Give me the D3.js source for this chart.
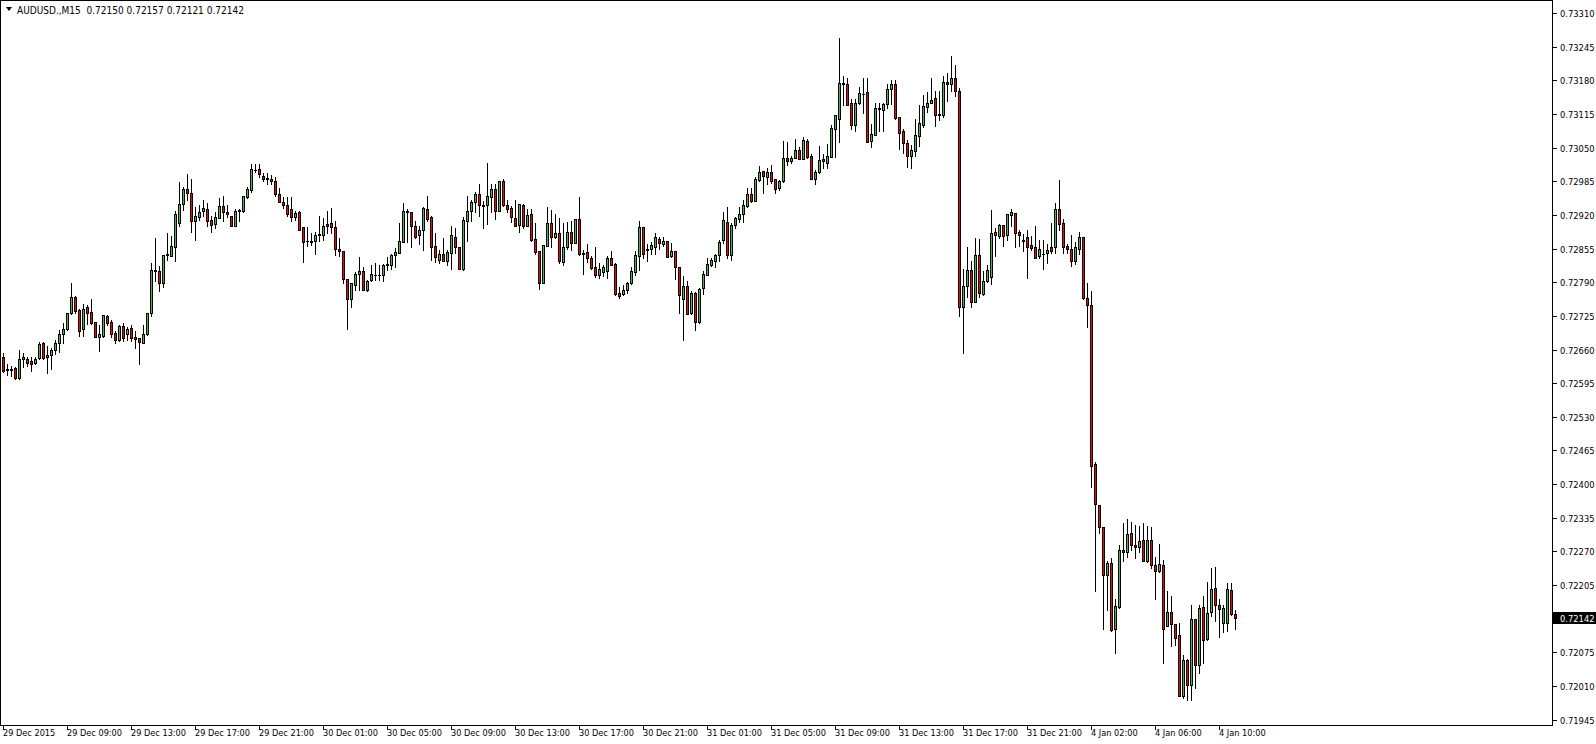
<!DOCTYPE html>
<html><head><meta charset="utf-8">
<script src="https://cdn.jsdelivr.net/npm/d3@7"></script>
<style>
html,body{margin:0;padding:0;background:#fff;overflow:hidden;}
svg{display:block;}
text{font-family:"DejaVu Sans Condensed","DejaVu Sans",sans-serif;}
</style></head><body>
<svg id="c" width="1596" height="744"></svg>
<script>
const title = "AUDUSD.,M15";
const headerOHLC = ["0.72150", "0.72157", "0.72121", "0.72142"];
const lastPrice = 0.72142;

const open = [
0.72645,0.72622,0.72621,0.72624,0.72606,0.72641,0.72642,0.72638,0.72635,0.72644,
0.72672,0.72645,0.72650,0.72659,0.72673,0.72691,0.72699,0.72730,0.72761,0.72736,
0.72700,0.72743,0.72733,0.72713,0.72684,0.72687,0.72725,0.72713,0.72693,0.72678,
0.72705,0.72690,0.72702,0.72684,0.72682,0.72673,0.72690,0.72730,0.72813,0.72812,
0.72789,0.72842,0.72841,0.72859,0.72905,0.72941,0.72970,0.72962,0.72909,0.72917,
0.72927,0.72932,0.72910,0.72903,0.72915,0.72937,0.72925,0.72919,0.72899,0.72927,
0.72927,0.72954,0.72968,0.73007,0.73008,0.72995,0.72991,0.72990,0.72985,0.72961,
0.72946,0.72939,0.72932,0.72917,0.72926,0.72896,0.72869,0.72869,0.72869,0.72881,
0.72881,0.72903,0.72904,0.72896,0.72855,0.72850,0.72796,0.72758,0.72785,0.72807,
0.72811,0.72776,0.72794,0.72804,0.72805,0.72804,0.72823,0.72824,0.72843,0.72847,
0.72868,0.72927,0.72926,0.72899,0.72881,0.72891,0.72931,0.72916,0.72860,0.72834,
0.72845,0.72831,0.72846,0.72877,0.72858,0.72816,0.72909,0.72928,0.72946,0.72961,
0.72939,0.72939,0.72955,0.72970,0.72928,0.72985,0.72939,0.72934,0.72914,0.72901,
0.72939,0.72899,0.72922,0.72874,0.72850,0.72789,0.72861,0.72904,0.72877,0.72885,
0.72829,0.72859,0.72887,0.72865,0.72912,0.72846,0.72849,0.72836,0.72819,0.72805,
0.72810,0.72812,0.72837,0.72825,0.72769,0.72767,0.72775,0.72789,0.72809,0.72840,
0.72896,0.72854,0.72854,0.72859,0.72873,0.72864,0.72869,0.72840,0.72850,0.72819,
0.72757,0.72782,0.72730,0.72769,0.72713,0.72779,0.72805,0.72823,0.72832,0.72842,
0.72871,0.72907,0.72843,0.72901,0.72913,0.72922,0.72938,0.72961,0.72948,0.72988,
0.73006,0.72994,0.73003,0.72989,0.72972,0.72985,0.73030,0.73024,0.73031,0.73046,
0.73029,0.73064,0.73034,0.72990,0.73003,0.73029,0.73021,0.73033,0.73086,0.73106,
0.73175,0.73174,0.73136,0.73093,0.73136,0.73154,0.73158,0.73064,0.73075,0.73126,
0.73123,0.73135,0.73164,0.73173,0.73109,0.73083,0.73059,0.73035,0.73044,0.73073,
0.73093,0.73128,0.73137,0.73146,0.73115,0.73113,0.73178,0.73173,0.73185,0.73160,
0.72743,0.72783,0.72813,0.72752,0.72842,0.72767,0.72792,0.72801,0.72887,0.72880,
0.72900,0.72881,0.72921,0.72923,0.72887,0.72871,0.72877,0.72862,0.72858,0.72840,
0.72845,0.72846,0.72858,0.72859,0.72932,0.72904,0.72860,0.72854,0.72831,0.72855,
0.72877,0.72760,0.72746,0.72439,0.72359,0.72317,0.72225,0.72247,0.72120,0.72163,
0.72273,0.72269,0.72305,0.72282,0.72278,0.72292,0.72252,0.72292,0.72243,0.72232,
0.72243,0.72126,0.72153,0.72130,0.72109,0.71990,0.72060,0.72011,0.72139,0.72051,
0.72162,0.72100,0.72153,0.72199,0.72166,0.72132,0.72132,0.72196,0.72150];

const high = [
0.72653,0.72633,0.72628,0.72626,0.72659,0.72654,0.72646,0.72646,0.72645,0.72675,
0.72675,0.72666,0.72664,0.72679,0.72698,0.72711,0.72731,0.72788,0.72763,0.72738,
0.72749,0.72747,0.72757,0.72713,0.72707,0.72727,0.72726,0.72717,0.72695,0.72707,
0.72712,0.72704,0.72708,0.72696,0.72682,0.72707,0.72731,0.72827,0.72876,0.72822,
0.72842,0.72886,0.72880,0.72928,0.72984,0.72975,0.72999,0.72989,0.72936,0.72940,
0.72950,0.72943,0.72919,0.72925,0.72953,0.72956,0.72940,0.72919,0.72931,0.72932,
0.72957,0.72974,0.73019,0.73019,0.73019,0.73001,0.73001,0.72997,0.72994,0.72972,
0.72955,0.72955,0.72954,0.72928,0.72928,0.72896,0.72896,0.72886,0.72887,0.72918,
0.72914,0.72927,0.72934,0.72909,0.72876,0.72851,0.72796,0.72788,0.72810,0.72838,
0.72819,0.72794,0.72823,0.72827,0.72823,0.72825,0.72839,0.72845,0.72856,0.72905,
0.72944,0.72932,0.72926,0.72909,0.72899,0.72935,0.72957,0.72918,0.72886,0.72852,
0.72876,0.72852,0.72899,0.72894,0.72858,0.72916,0.72957,0.72950,0.72965,0.72979,
0.72948,0.73020,0.72979,0.72979,0.72986,0.72990,0.72950,0.72937,0.72950,0.72941,
0.72941,0.72931,0.72931,0.72905,0.72850,0.72863,0.72935,0.72930,0.72922,0.72914,
0.72905,0.72907,0.72908,0.72913,0.72954,0.72852,0.72864,0.72840,0.72858,0.72827,
0.72824,0.72840,0.72850,0.72828,0.72780,0.72784,0.72791,0.72819,0.72850,0.72908,
0.72896,0.72864,0.72867,0.72885,0.72878,0.72878,0.72869,0.72865,0.72850,0.72820,
0.72802,0.72793,0.72773,0.72771,0.72779,0.72811,0.72836,0.72836,0.72845,0.72871,
0.72926,0.72936,0.72904,0.72917,0.72936,0.72950,0.72972,0.72972,0.72993,0.73015,
0.73006,0.73010,0.73016,0.72989,0.72988,0.73064,0.73061,0.73034,0.73066,0.73051,
0.73071,0.73066,0.73037,0.73007,0.73053,0.73038,0.73057,0.73093,0.73113,0.73262,
0.73189,0.73184,0.73144,0.73145,0.73167,0.73185,0.73185,0.73096,0.73136,0.73136,
0.73137,0.73173,0.73181,0.73181,0.73109,0.73087,0.73065,0.73056,0.73106,0.73132,
0.73151,0.73158,0.73185,0.73159,0.73159,0.73189,0.73194,0.73227,0.73210,0.73165,
0.72816,0.72859,0.72832,0.72876,0.72874,0.72812,0.72823,0.72930,0.72895,0.72903,
0.72900,0.72922,0.72932,0.72923,0.72892,0.72883,0.72891,0.72880,0.72898,0.72871,
0.72872,0.72864,0.72905,0.72944,0.72988,0.72912,0.72864,0.72881,0.72868,0.72887,
0.72877,0.72789,0.72774,0.72443,0.72359,0.72317,0.72251,0.72257,0.72179,0.72282,
0.72324,0.72332,0.72327,0.72321,0.72319,0.72324,0.72319,0.72318,0.72259,0.72285,
0.72254,0.72193,0.72184,0.72130,0.72132,0.72069,0.72063,0.72166,0.72139,0.72167,
0.72184,0.72211,0.72238,0.72239,0.72178,0.72167,0.72209,0.72209,0.72157];

const low = [
0.72617,0.72611,0.72609,0.72603,0.72604,0.72626,0.72628,0.72619,0.72633,0.72642,
0.72641,0.72614,0.72622,0.72651,0.72655,0.72672,0.72697,0.72729,0.72731,0.72686,
0.72687,0.72709,0.72709,0.72684,0.72657,0.72684,0.72707,0.72684,0.72673,0.72676,
0.72676,0.72678,0.72677,0.72664,0.72632,0.72672,0.72689,0.72724,0.72793,0.72773,
0.72780,0.72833,0.72840,0.72831,0.72898,0.72930,0.72949,0.72887,0.72872,0.72910,
0.72919,0.72898,0.72887,0.72895,0.72914,0.72909,0.72917,0.72898,0.72899,0.72909,
0.72926,0.72953,0.72964,0.73003,0.72994,0.72986,0.72979,0.72979,0.72957,0.72945,
0.72934,0.72919,0.72908,0.72910,0.72891,0.72829,0.72860,0.72863,0.72845,0.72870,
0.72872,0.72885,0.72886,0.72843,0.72840,0.72789,0.72700,0.72742,0.72776,0.72776,
0.72775,0.72774,0.72793,0.72794,0.72794,0.72793,0.72814,0.72816,0.72819,0.72846,
0.72868,0.72867,0.72859,0.72876,0.72864,0.72852,0.72909,0.72833,0.72830,0.72828,
0.72831,0.72824,0.72816,0.72846,0.72816,0.72814,0.72870,0.72908,0.72926,0.72919,
0.72895,0.72903,0.72925,0.72913,0.72928,0.72937,0.72926,0.72907,0.72898,0.72887,
0.72895,0.72899,0.72870,0.72845,0.72778,0.72788,0.72860,0.72859,0.72876,0.72827,
0.72824,0.72854,0.72852,0.72865,0.72843,0.72807,0.72829,0.72815,0.72800,0.72798,
0.72802,0.72798,0.72823,0.72765,0.72760,0.72766,0.72770,0.72787,0.72805,0.72814,
0.72836,0.72832,0.72845,0.72844,0.72855,0.72860,0.72838,0.72838,0.72797,0.72731,
0.72679,0.72728,0.72729,0.72698,0.72712,0.72767,0.72805,0.72822,0.72819,0.72832,
0.72865,0.72836,0.72833,0.72895,0.72907,0.72907,0.72936,0.72945,0.72948,0.72986,
0.72963,0.72980,0.72981,0.72962,0.72968,0.72984,0.73016,0.73020,0.73030,0.73029,
0.73029,0.73030,0.72989,0.72979,0.73002,0.73010,0.73010,0.73033,0.73033,0.73061,
0.73133,0.73132,0.73087,0.73083,0.73135,0.73118,0.73062,0.73052,0.73074,0.73083,
0.73083,0.73126,0.73135,0.73105,0.73048,0.73040,0.73013,0.73010,0.73034,0.73053,
0.73091,0.73119,0.73136,0.73092,0.73104,0.73109,0.73141,0.73160,0.73150,0.72724,
0.72653,0.72762,0.72742,0.72751,0.72762,0.72766,0.72791,0.72786,0.72840,0.72876,
0.72860,0.72872,0.72898,0.72859,0.72861,0.72850,0.72798,0.72852,0.72836,0.72836,
0.72816,0.72828,0.72846,0.72847,0.72891,0.72846,0.72846,0.72822,0.72825,0.72844,
0.72758,0.72704,0.72395,0.72194,0.72305,0.72121,0.72156,0.72117,0.72073,0.72160,
0.72251,0.72260,0.72273,0.72257,0.72269,0.72251,0.72250,0.72238,0.72179,0.72230,
0.72055,0.72125,0.72087,0.72090,0.71990,0.71987,0.71983,0.71983,0.72006,0.72036,
0.72055,0.72099,0.72145,0.72136,0.72105,0.72114,0.72117,0.72148,0.72121];

const close = [
0.72619,0.72621,0.72623,0.72605,0.72642,0.72645,0.72635,0.72633,0.72642,0.72671,
0.72644,0.72649,0.72659,0.72672,0.72690,0.72699,0.72730,0.72761,0.72735,0.72695,
0.72739,0.72731,0.72712,0.72685,0.72690,0.72726,0.72712,0.72690,0.72678,0.72705,
0.72682,0.72700,0.72682,0.72681,0.72675,0.72690,0.72730,0.72814,0.72811,0.72788,
0.72842,0.72845,0.72860,0.72922,0.72941,0.72970,0.72962,0.72909,0.72918,0.72926,
0.72934,0.72909,0.72900,0.72917,0.72937,0.72925,0.72922,0.72899,0.72927,0.72930,
0.72957,0.72970,0.73008,0.73007,0.72999,0.72989,0.72990,0.72985,0.72961,0.72946,
0.72939,0.72922,0.72916,0.72923,0.72891,0.72867,0.72869,0.72868,0.72882,0.72883,
0.72899,0.72898,0.72896,0.72854,0.72850,0.72796,0.72758,0.72788,0.72807,0.72811,
0.72776,0.72793,0.72806,0.72805,0.72805,0.72823,0.72825,0.72843,0.72849,0.72869,
0.72927,0.72926,0.72898,0.72878,0.72891,0.72934,0.72913,0.72858,0.72838,0.72845,
0.72832,0.72849,0.72881,0.72858,0.72816,0.72910,0.72927,0.72946,0.72961,0.72939,
0.72938,0.72957,0.72970,0.72927,0.72986,0.72939,0.72932,0.72916,0.72899,0.72941,
0.72898,0.72921,0.72872,0.72849,0.72788,0.72863,0.72904,0.72877,0.72885,0.72831,
0.72858,0.72887,0.72865,0.72912,0.72845,0.72845,0.72836,0.72818,0.72805,0.72816,
0.72820,0.72837,0.72824,0.72767,0.72764,0.72776,0.72788,0.72811,0.72842,0.72896,
0.72845,0.72853,0.72863,0.72877,0.72865,0.72869,0.72838,0.72850,0.72819,0.72765,
0.72782,0.72729,0.72770,0.72713,0.72778,0.72806,0.72825,0.72833,0.72842,0.72867,
0.72910,0.72843,0.72901,0.72914,0.72922,0.72939,0.72961,0.72948,0.72989,0.73004,
0.72996,0.73003,0.72986,0.72971,0.72985,0.73031,0.73024,0.73031,0.73046,0.73029,
0.73065,0.73033,0.72990,0.73004,0.73026,0.73024,0.73034,0.73088,0.73113,0.73175,
0.73174,0.73133,0.73093,0.73136,0.73155,0.73154,0.73062,0.73077,0.73127,0.73125,
0.73135,0.73163,0.73173,0.73107,0.73079,0.73059,0.73035,0.73046,0.73074,0.73097,
0.73131,0.73136,0.73143,0.73114,0.73113,0.73178,0.73173,0.73185,0.73160,0.72743,
0.72783,0.72813,0.72751,0.72842,0.72770,0.72792,0.72814,0.72885,0.72881,0.72900,
0.72880,0.72922,0.72925,0.72886,0.72881,0.72870,0.72859,0.72856,0.72837,0.72854,
0.72844,0.72853,0.72851,0.72931,0.72902,0.72859,0.72854,0.72831,0.72858,0.72878,
0.72760,0.72747,0.72436,0.72362,0.72317,0.72225,0.72247,0.72118,0.72165,0.72273,
0.72269,0.72304,0.72282,0.72278,0.72290,0.72252,0.72292,0.72243,0.72232,0.72246,
0.72121,0.72153,0.72129,0.72102,0.71990,0.72060,0.72011,0.72139,0.72051,0.72160,
0.72098,0.72151,0.72197,0.72167,0.72158,0.72160,0.72197,0.72149,0.72142];

const priceTicks = [0.73310,0.73245,0.73180,0.73115,0.73050,0.72985,0.72920,0.72855,0.72790,0.72725,
  0.72660,0.72595,0.72530,0.72465,0.72400,0.72335,0.72270,0.72205,0.72075,0.72010,0.71945];
const timeLabels = ["29 Dec 2015","29 Dec 09:00","29 Dec 13:00","29 Dec 17:00","29 Dec 21:00",
  "30 Dec 01:00","30 Dec 05:00","30 Dec 09:00","30 Dec 13:00","30 Dec 17:00","30 Dec 21:00",
  "31 Dec 01:00","31 Dec 05:00","31 Dec 09:00","31 Dec 13:00","31 Dec 17:00","31 Dec 21:00",
  "4 Jan 02:00","4 Jan 06:00","4 Jan 10:00"];
const timeLabelBars = [0,16,32,48,64,80,96,112,128,144,160,176,192,208,224,240,256,272,288,304];

const W = 1596, H = 744;
const plotRight = 1552, plotBottom = 725;
const bullFill = "#32c832", bearFill = "#ff0000";

const svg = d3.select("#c");
svg.append("rect").attr("width", W).attr("height", H).attr("fill", "#fff");

const x = d3.scaleLinear().domain([0, open.length - 1]).range([3, 3 + 4 * (open.length - 1)]);
const y = d3.scaleLinear().domain([0.71945, 0.73310]).range([719.6, 13.2]);

const g = svg.append("g").attr("shape-rendering", "crispEdges");

// frame
g.append("rect").attr("x", 0.5).attr("y", 0.5).attr("width", plotRight).attr("height", plotBottom)
  .attr("fill", "none").attr("stroke", "#000");

const bars = d3.range(open.length).map(i => ({i, o: open[i], h: high[i], l: low[i], c: close[i]}));

const cg = g.append("g");
bars.forEach(d => {
  const col = Math.round(x(d.i));
  const yH = Math.round(y(d.h)), yL = Math.round(y(d.l));
  const yT = Math.round(y(Math.max(d.o, d.c))), yB = Math.round(y(Math.min(d.o, d.c)));
  cg.append("rect").attr("x", col).attr("y", yH).attr("width", 1).attr("height", Math.max(1, yL - yH + 1)).attr("fill", "#000");
  if (yB - yT < 2) {
    cg.append("rect").attr("x", col - 1).attr("y", yT).attr("width", 3).attr("height", Math.max(1, yB - yT + 1)).attr("fill", "#000");
  } else {
    cg.append("rect").attr("x", col - 1).attr("y", yT).attr("width", 3).attr("height", yB - yT + 1).attr("fill", "#000");
    cg.append("rect").attr("x", col).attr("y", yT + 1).attr("width", 1).attr("height", yB - yT - 1)
      .attr("fill", d.c >= d.o ? bullFill : bearFill);
  }
});

// price axis
const pa = g.append("g");
priceTicks.forEach(p => {
  const yy = Math.round(y(p));
  pa.append("rect").attr("x", plotRight + 1).attr("y", yy).attr("width", 4).attr("height", 1).attr("fill", "#000");
  pa.append("text").attr("x", 1560).attr("y", yy + 3.5).attr("font-size", "9.3px").attr("fill", "#000")
    .text(d3.format(".5f")(p));
});
// current price tag
{
  const yy = Math.round(y(lastPrice));
  pa.append("rect").attr("x", plotRight + 1).attr("y", yy - 6).attr("width", W - plotRight - 1).attr("height", 12).attr("fill", "#000");
  pa.append("text").attr("x", 1560).attr("y", yy + 3.5).attr("font-size", "9.3px").attr("fill", "#fff").text(d3.format(".5f")(lastPrice));
}

// time axis
const ta = g.append("g");
timeLabels.forEach((t, j) => {
  const col = Math.round(x(timeLabelBars[j]));
  ta.append("rect").attr("x", col).attr("y", plotBottom + 1).attr("width", 1).attr("height", 4).attr("fill", "#000");
  ta.append("text").attr("x", col).attr("y", 736).attr("font-size", "9.1px").attr("fill", "#000").text(t);
});

// header
svg.append("path").attr("d", "M6,7 L12,7 L9,11 Z").attr("fill", "#000");
svg.append("text").attr("x", 17).attr("y", 14).attr("font-size", "10px").attr("fill", "#000")
  .attr("xml:space", "preserve")
  .text(title + "  " + headerOHLC.join(" "));
</script>
</body></html>
